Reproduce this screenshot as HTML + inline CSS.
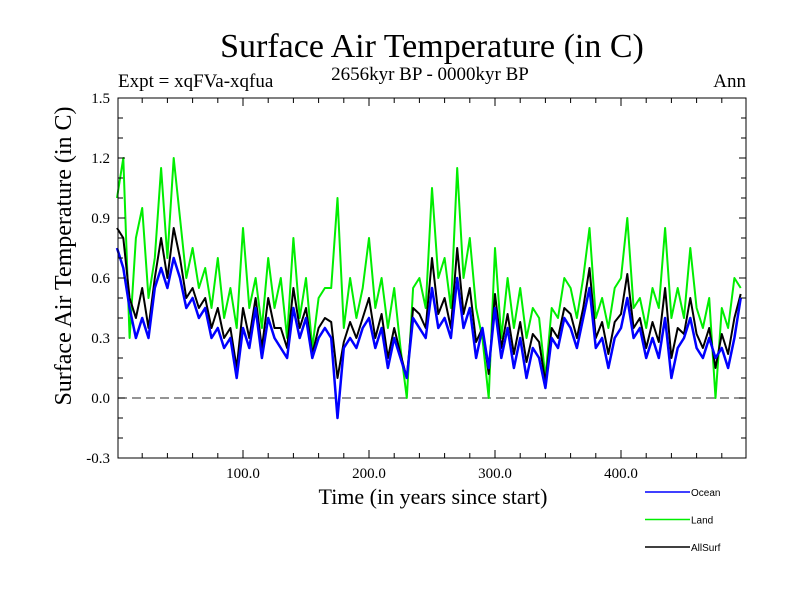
<!DOCTYPE html>
<html><head><meta charset="utf-8"><style>
body{margin:0;background:#fff;width:800px;height:600px;overflow:hidden}
svg{display:block}
.serif{font-family:"Liberation Serif",serif}
.sans{font-family:"Liberation Sans",sans-serif}
</style></head><body>
<svg id="chart" width="800" height="600">
<text class="serif" x="432" y="57" font-size="34" text-anchor="middle">Surface Air Temperature (in C)</text>
<text class="serif" x="430" y="80" font-size="19" text-anchor="middle">2656kyr BP - 0000kyr BP</text>
<text class="serif" x="118" y="87" font-size="19">Expt = xqFVa-xqfua</text>
<text class="serif" x="746" y="87" font-size="19" text-anchor="end">Ann</text>
<text class="serif" x="433" y="504" font-size="22" text-anchor="middle">Time (in years since start)</text>
<text class="serif" x="0" y="0" font-size="24" text-anchor="middle" transform="translate(71,256) rotate(-90)">Surface Air Temperature (in C)</text>
<g id="plot"></g>
<g id="legend"></g>
</svg>
<script>
const years=[];for(let i=0;i<100;i++)years.push(i*5);
const land=[1.0,1.2,0.3,0.8,0.95,0.5,0.7,1.15,0.7,1.2,0.9,0.6,0.75,0.55,0.65,0.45,0.7,0.4,0.55,0.35,
0.85,0.45,0.6,0.35,0.7,0.45,0.6,0.3,0.8,0.4,0.6,0.25,0.5,0.55,0.55,1.0,0.35,0.6,0.4,0.55,
0.8,0.45,0.6,0.35,0.55,0.25,0.0,0.55,0.6,0.45,1.05,0.6,0.7,0.45,1.15,0.6,0.8,0.45,0.3,0.0,
0.75,0.3,0.6,0.35,0.55,0.3,0.45,0.4,0.1,0.45,0.4,0.6,0.55,0.4,0.6,0.85,0.4,0.5,0.35,0.55,
0.6,0.9,0.45,0.5,0.35,0.55,0.45,0.85,0.4,0.55,0.4,0.75,0.45,0.35,0.5,0.0,0.45,0.35,0.6,0.55];
const ocean=[0.75,0.65,0.45,0.3,0.4,0.3,0.55,0.65,0.55,0.7,0.6,0.45,0.5,0.4,0.45,0.3,0.35,0.25,0.3,0.1,
0.35,0.25,0.45,0.2,0.4,0.3,0.25,0.2,0.45,0.3,0.4,0.2,0.3,0.35,0.3,-0.1,0.25,0.3,0.25,0.35,
0.4,0.25,0.35,0.15,0.3,0.2,0.1,0.4,0.35,0.3,0.55,0.35,0.4,0.3,0.6,0.35,0.45,0.2,0.35,0.15,
0.45,0.2,0.35,0.15,0.3,0.1,0.25,0.2,0.05,0.3,0.25,0.4,0.35,0.25,0.4,0.55,0.25,0.3,0.15,0.3,
0.35,0.5,0.3,0.35,0.2,0.3,0.2,0.4,0.1,0.25,0.3,0.4,0.25,0.2,0.3,0.2,0.25,0.15,0.3,0.5];
const allsurf=[0.85,0.8,0.5,0.4,0.55,0.35,0.6,0.8,0.6,0.85,0.7,0.5,0.55,0.45,0.5,0.35,0.45,0.3,0.35,0.15,
0.45,0.3,0.5,0.25,0.5,0.35,0.35,0.25,0.55,0.35,0.45,0.22,0.35,0.4,0.38,0.1,0.28,0.38,0.3,0.4,
0.5,0.3,0.42,0.2,0.35,0.22,0.1,0.45,0.42,0.35,0.7,0.42,0.5,0.35,0.75,0.42,0.55,0.28,0.35,0.12,
0.52,0.25,0.42,0.22,0.38,0.18,0.32,0.28,0.08,0.35,0.3,0.45,0.42,0.3,0.45,0.65,0.3,0.38,0.22,0.38,
0.42,0.62,0.35,0.4,0.25,0.38,0.28,0.55,0.2,0.35,0.32,0.5,0.32,0.25,0.35,0.15,0.32,0.22,0.4,0.52];
const yTicks=[-0.3,0.0,0.3,0.6,0.9,1.2,1.5];
const yTickLabels=["-0.3","0.0","0.3","0.6","0.9","1.2","1.5"];
const xTicks=[100,200,300,400];
const xTickLabels=["100.0","200.0","300.0","400.0"];

const L=118,R=746,T=98,B=458;
const X=v=>117+v*1.26;
const Y=v=>398-v*200;
const NS='http://www.w3.org/2000/svg';
const plot=document.getElementById('plot');
function mk(tag,attrs,parent){const e=document.createElementNS(NS,tag);for(const k in attrs)e.setAttribute(k,attrs[k]);parent.appendChild(e);return e;}

const z=mk('line',{x1:L,x2:R,y1:Y(0),y2:Y(0),stroke:'#555','stroke-dasharray':'9,5','stroke-width':1.2},plot);



function series(vals,color,name,w){
  const d=vals.map((v,i)=>(i?'L':'M')+X(years[i]).toFixed(1)+','+Y(v).toFixed(1)).join(' ');
  const p=mk('path',{d:d,fill:'none',stroke:color,'stroke-width':w,'stroke-linejoin':'round'},plot);
  
  
}
series(land,'#00ee00','land-series',2);
series(allsurf,'#000000','allsurf-series',2);
series(ocean,'#0000ff','ocean-series',2.5);

const fr=mk('rect',{x:L,y:T,width:R-L,height:B-T,fill:'none',stroke:'#000','stroke-width':1},plot);



for(let k=-3;k<=15;k++){
  const y=Y(k/10);const major=(k%3===0);const len=major?7:5;
  mk('line',{x1:L,x2:L+len,y1:y,y2:y,stroke:'#000'},plot);
  mk('line',{x1:R-len,x2:R,y1:y,y2:y,stroke:'#000'},plot);
}
yTicks.forEach((v,i)=>{
  const t=mk('text',{x:110,y:Y(v)+5,'font-size':15,'text-anchor':'end',class:'serif'},plot);
  t.textContent=yTickLabels[i];
  
  
});
for(let v=20;v<500;v+=20){
  const x=X(v);const major=(v%100===0);const len=major?8:5;
  mk('line',{x1:x,x2:x,y1:B,y2:B-len,stroke:'#000'},plot);
  mk('line',{x1:x,x2:x,y1:T,y2:T+len,stroke:'#000'},plot);
}
xTicks.forEach((v,i)=>{
  const t=mk('text',{x:X(v),y:478,'font-size':15,'text-anchor':'middle',class:'serif'},plot);
  t.textContent=xTickLabels[i];
  
  
});

const lg=document.getElementById('legend');
const legendNames=['Ocean','Land','AllSurf'];
const legendColors=['#0000ff','#00ee00','#000000'];
legendNames.forEach((n,i)=>{
  const y=492+i*27.5;
  const ln=mk('line',{x1:645,x2:690,y1:y,y2:y,stroke:legendColors[i],'stroke-width':1.5},lg);
  
  
  const t=mk('text',{x:691,y:y+4,'font-size':10,class:'sans'},lg);
  t.textContent=n;
  
  
});
</script>
</body></html>
